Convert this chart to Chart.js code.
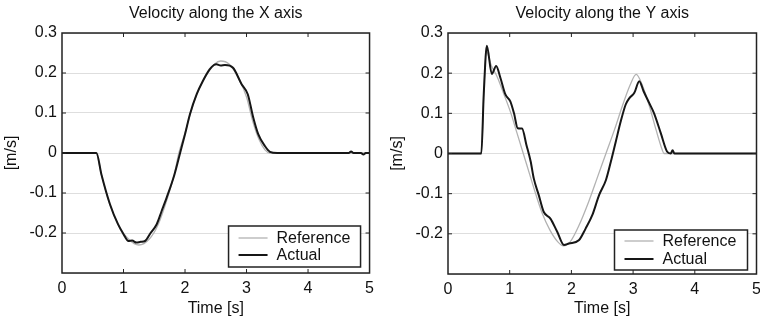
<!DOCTYPE html>
<html>
<head>
<meta charset="utf-8">
<script src="https://cdn.jsdelivr.net/npm/chart.js@4.4.1/dist/chart.umd.min.js"></script>
<style>
  html, body { margin: 0; padding: 0; background: #fff; overflow: hidden; width: 760px; height: 321px; }
  .panel { position: absolute; top: 0; height: 321px; }
</style>
</head>
<body>
<div class="panel" style="left:0;width:380px"><canvas id="velX" width="380" height="321"></canvas></div>
<div class="panel" style="left:380px;width:400px"><canvas id="velY" width="400" height="321"></canvas></div>
<script>
const FONT = '"Liberation Sans", Arial, sans-serif';

const titles = ['Velocity along the X axis', 'Velocity along the Y axis'];
const seriesNames = ['Reference', 'Actual'];
const timeTicks = [0, 1, 2, 3, 4, 5];
const timeTickLabels = ['0', '1', '2', '3', '4', '5'];
const velTicks = [-0.3, -0.2, -0.1, 0, 0.1, 0.2, 0.3];
const velTickLabels = ['', '-0.2', '-0.1', '0', '0.1', '0.2', '0.3'];

// X axis velocity
const timeXRef = [0, 0.55, 0.65, 0.78, 0.92, 1.08, 1.25, 1.42, 1.56, 1.72, 1.83, 1.9, 2.0, 2.09, 2.2, 2.33, 2.48, 2.58, 2.72, 2.86, 3.0, 3.1, 3.2, 3.3, 3.38, 5];
const velXRef  = [0, 0, -0.06, -0.13, -0.18, -0.215, -0.23, -0.215, -0.18, -0.11, -0.05, 0, 0.05, 0.1, 0.15, 0.19, 0.222, 0.23, 0.222, 0.19, 0.14, 0.08, 0.035, 0.008, 0, 0];
const timeXAct = [0, 0.56, 0.64, 0.78, 0.91, 1.0, 1.08, 1.14, 1.21, 1.28, 1.35, 1.44, 1.54, 1.62, 1.70, 1.83, 1.92, 2.0, 2.08, 2.19, 2.29, 2.40, 2.47, 2.51, 2.58, 2.65, 2.78, 2.92, 3.02, 3.11, 3.19, 3.30, 3.38, 3.5, 4.66, 4.7, 4.74, 4.86, 4.9, 4.94, 5];
const velXAct  = [0, 0, -0.053, -0.128, -0.178, -0.203, -0.22, -0.219, -0.224, -0.222, -0.22, -0.2, -0.178, -0.145, -0.112, -0.053, 0, 0.047, 0.097, 0.147, 0.18, 0.209, 0.22, 0.222, 0.219, 0.22, 0.213, 0.172, 0.147, 0.088, 0.047, 0.017, 0.003, 0, 0, 0.004, 0, 0, -0.004, 0, 0];

// Y axis velocity
const timeYRef = [0, 0.54, 0.58, 0.62, 0.7, 0.8, 0.9, 1.02, 1.12, 1.22, 1.32, 1.42, 1.53, 1.65, 1.78, 1.87, 1.98, 2.12, 2.28, 2.42, 2.56, 2.7, 2.83, 2.95, 3.05, 3.15, 3.26, 3.37, 3.47, 3.5, 5];
const velYRef  = [0, 0, 0.15, 0.255, 0.22, 0.19, 0.15, 0.1, 0.05, 0, -0.05, -0.1, -0.15, -0.19, -0.22, -0.23, -0.22, -0.18, -0.12, -0.06, 0, 0.06, 0.12, 0.17, 0.197, 0.17, 0.12, 0.06, 0.01, 0, 0];
const timeYAct = [0, 0.54, 0.58, 0.63, 0.71, 0.78, 0.85, 0.93, 1.01, 1.07, 1.13, 1.2, 1.27, 1.34, 1.39, 1.47, 1.55, 1.66, 1.77, 1.88, 1.96, 2.12, 2.23, 2.34, 2.45, 2.56, 2.64, 2.72, 2.80, 2.88, 2.94, 3.02, 3.10, 3.17, 3.26, 3.34, 3.45, 3.55, 3.61, 3.64, 3.67, 5];
const velYAct  = [0, 0, 0.15, 0.268, 0.198, 0.218, 0.188, 0.147, 0.13, 0.10, 0.063, 0.062, 0.022, -0.02, -0.062, -0.103, -0.145, -0.162, -0.195, -0.228, -0.224, -0.216, -0.187, -0.153, -0.103, -0.066, -0.02, 0.03, 0.08, 0.122, 0.138, 0.151, 0.18, 0.155, 0.126, 0.10, 0.05, 0.005, 0, 0.008, 0, 0];

// box around the plot, inner tick marks and the legend inside the plot
const framePlugin = {
  id: 'frame',
  afterDraw(chart, args, opts) {
    const { ctx, chartArea: a, scales } = chart;
    ctx.save();
    ctx.strokeStyle = '#222';
    ctx.lineWidth = 1.5;
    ctx.strokeRect(a.left, a.top, a.right - a.left, a.bottom - a.top);

    ctx.lineWidth = 1;
    ctx.beginPath();
    timeTicks.slice(1, -1).forEach(t => {
      const px = scales.x.getPixelForValue(t);
      ctx.moveTo(px, a.top); ctx.lineTo(px, a.top + 4);
      ctx.moveTo(px, a.bottom); ctx.lineTo(px, a.bottom - 4);
    });
    velTicks.slice(1, -1).forEach(v => {
      const py = scales.y.getPixelForValue(v);
      ctx.moveTo(a.left, py); ctx.lineTo(a.left + 4, py);
      ctx.moveTo(a.right, py); ctx.lineTo(a.right - 4, py);
    });
    ctx.stroke();

    // legend
    const lg = opts.legend;
    const x0 = a.right - lg.gapRight - lg.w;
    const y0 = a.bottom - lg.gapBottom - lg.h;
    ctx.fillStyle = '#fff';
    ctx.fillRect(x0, y0, lg.w, lg.h);
    ctx.strokeStyle = '#222';
    ctx.lineWidth = 1.5;
    ctx.strokeRect(x0, y0, lg.w, lg.h);
    ctx.font = '16px ' + FONT;
    ctx.textBaseline = 'middle';
    ctx.textAlign = 'left';
    chart.data.datasets.forEach((ds, i) => {
      const ry = y0 + lg.rows[i];
      ctx.strokeStyle = ds.borderColor;
      ctx.lineWidth = ds.borderWidth;
      ctx.beginPath();
      ctx.moveTo(x0 + 10, ry); ctx.lineTo(x0 + 39, ry);
      ctx.stroke();
      ctx.fillStyle = '#111';
      ctx.fillText(ds.label, x0 + 48, ry + 1);
    });
    ctx.restore();
  }
};

function buildChart(id, title, refT, refV, actT, actV, box) {
  const pts = (ts, vs) => ts.map((t, i) => ({ x: t, y: vs[i] }));
  return new Chart(document.getElementById(id), {
    type: 'line',
    data: {
      datasets: [
        { label: seriesNames[0], data: pts(refT, refV), borderColor: '#b2b2b2', borderWidth: 1.3,
          pointRadius: 0, cubicInterpolationMode: 'monotone', order: 1 },
        { label: seriesNames[1], data: pts(actT, actV), borderColor: '#161616', borderWidth: 2,
          pointRadius: 0, cubicInterpolationMode: 'monotone', order: 0 }
      ]
    },
    options: {
      responsive: false,
      animation: false,
      layout: { padding: { left: 0, right: box.padRight, top: 0, bottom: 0 } },
      plugins: {
        legend: { display: false },
        tooltip: { enabled: false },
        title: {
          display: true, text: title, fullSize: false, color: '#111',
          font: { size: 16, weight: 'normal', family: FONT },
          padding: { top: 4, bottom: 9.8 }
        },
        frame: { legend: box.legend }
      },
      scales: {
        x: {
          type: 'linear', min: 0, max: 5,
          afterBuildTicks: s => { s.ticks = timeTicks.map(v => ({ value: v })); },
          afterFit: s => { s.height = box.xAxisH; },
          grid: { display: false, drawTicks: false },
          border: { display: false },
          ticks: { color: '#111', font: { size: 16, family: FONT }, padding: 6, maxRotation: 0,
                   callback: (v, i) => timeTickLabels[i] },
          title: { display: true, text: 'Time [s]', color: '#111',
                   font: { size: 16, family: FONT }, padding: { top: 0, bottom: 3 } }
        },
        y: {
          type: 'linear', min: -0.3, max: 0.3,
          afterBuildTicks: s => { s.ticks = velTicks.map(v => ({ value: v })); },
          afterFit: s => { s.width = box.yAxisW; },
          grid: { color: '#dedede', lineWidth: 1, drawTicks: false },
          border: { display: false },
          ticks: { color: '#111', font: { size: 16, family: FONT }, padding: 5,
                   callback: (v, i) => velTickLabels[i] },
          title: { display: true, text: '[m/s]', color: '#111',
                   font: { size: 16, family: FONT }, padding: { top: box.yTitlePad, bottom: 0 } }
        }
      }
    },
    plugins: [framePlugin]
  });
}

buildChart('velX', titles[0], timeXRef, velXRef, timeXAct, velXAct, {
  yAxisW: 62, padRight: 10, xAxisH: 48, yTitlePad: 1.5,
  legend: { w: 132, h: 41, gapRight: 9, gapBottom: 6, rows: [12, 29] }
});
buildChart('velY', titles[1], timeYRef, velYRef, timeYAct, velYAct, {
  yAxisW: 68, padRight: 23.5, xAxisH: 47, yTitlePad: 8,
  legend: { w: 133, h: 40, gapRight: 9, gapBottom: 4, rows: [11, 29] }
});
</script>
</body>
</html>
